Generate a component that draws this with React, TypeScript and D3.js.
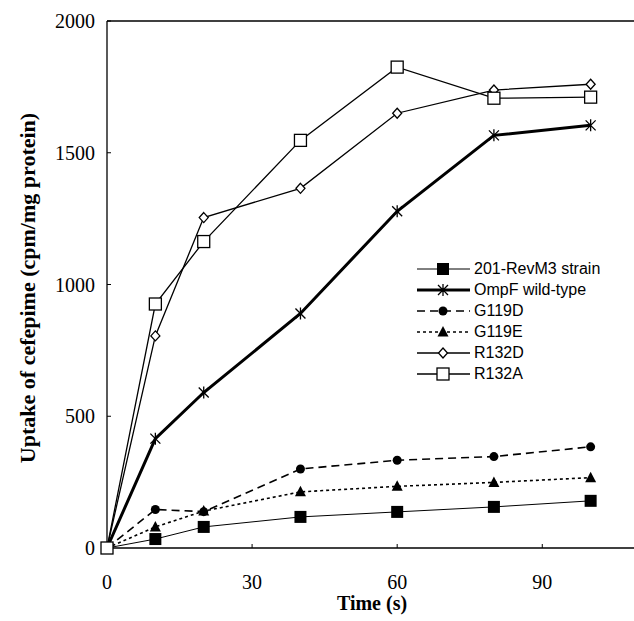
import React, { useEffect, useRef } from 'react';
import * as d3 from 'd3';

// time points (s)
const times = [0, 10, 20, 40, 60, 80, 100];

const revM3 = [0, 34, 80, 118, 137, 156, 179];
const ompF = [0, 415, 590, 890, 1278, 1566, 1604];
const g119d = [0, 146, 138, 300, 333, 347, 384];
const g119e = [0, 80, 140, 213, 234, 249, 267];
const r132d = [0, 805, 1254, 1365, 1650, 1738, 1760];
const r132a = [0, 926, 1163, 1547, 1825, 1707, 1711];

const seriesNames = ['201-RevM3 strain', 'OmpF wild-type', 'G119D', 'G119E', 'R132D', 'R132A'];
const xTicks = [0, 30, 60, 90];
const yTicks = [0, 500, 1000, 1500, 2000];

const W = 634;
const H = 621;

type Style = { width: number; dash: string | null; marker: string };
const styles: Style[] = [
  { width: 1, dash: null, marker: 'fsquare' },
  { width: 3, dash: null, marker: 'star' },
  { width: 1.6, dash: '8,5', marker: 'circle' },
  { width: 1.6, dash: '3,3', marker: 'triangle' },
  { width: 1.3, dash: null, marker: 'diamond' },
  { width: 1.3, dash: null, marker: 'osquare' },
];

function drawMarker(g: any, kind: string, cx: number, cy: number) {
  if (kind === 'fsquare') {
    g.append('rect').attr('x', cx - 6).attr('y', cy - 6).attr('width', 12).attr('height', 12).attr('fill', '#000');
  } else if (kind === 'osquare') {
    g.append('rect').attr('x', cx - 6).attr('y', cy - 6).attr('width', 12).attr('height', 12)
      .attr('fill', '#fff').attr('stroke', '#000').attr('stroke-width', 1.3);
  } else if (kind === 'circle') {
    g.append('circle').attr('cx', cx).attr('cy', cy).attr('r', 4.5).attr('fill', '#000');
  } else if (kind === 'triangle') {
    g.append('path').attr('d', `M${cx},${cy - 6}L${cx + 5.5},${cy + 4.5}L${cx - 5.5},${cy + 4.5}Z`).attr('fill', '#000');
  } else if (kind === 'diamond') {
    g.append('path').attr('d', `M${cx},${cy - 5}L${cx + 4.5},${cy}L${cx},${cy + 5}L${cx - 4.5},${cy}Z`)
      .attr('fill', '#fff').attr('stroke', '#000').attr('stroke-width', 1.3);
  } else if (kind === 'star') {
    g.append('path')
      .attr('d', `M${cx - 5},${cy - 5}L${cx + 5},${cy + 5}M${cx + 5},${cy - 5}L${cx - 5},${cy + 5}M${cx},${cy - 6}L${cx},${cy + 6}`)
      .attr('stroke', '#000').attr('stroke-width', 1.3).attr('fill', 'none');
  }
}

const App = () => {
  const svgRef = useRef<SVGSVGElement | null>(null);

  useEffect(() => {
    const svg = d3.select(svgRef.current);
    svg.selectAll('*').remove();

    const x = d3.scaleLinear().domain([0, 110]).range([107, 639]);
    const y = d3.scaleLinear().domain([0, 2000]).range([548, 21]);

    const allSeries = [revM3, ompF, g119d, g119e, r132d, r132a];

    // frame: left axis, bottom axis, top line
    svg.append('line').attr('x1', x(0)).attr('x2', x(0)).attr('y1', y(2000)).attr('y2', y(0))
      .attr('stroke', '#000').attr('stroke-width', 1.3);
    svg.append('line').attr('x1', x(0)).attr('x2', W).attr('y1', y(0)).attr('y2', y(0))
      .attr('stroke', '#000').attr('stroke-width', 1.5);
    svg.append('line').attr('x1', x(0)).attr('x2', W).attr('y1', y(2000)).attr('y2', y(2000))
      .attr('stroke', '#000').attr('stroke-width', 1.3);

    // ticks
    yTicks.forEach((t) => {
      svg.append('line').attr('x1', x(0)).attr('x2', x(0) + 4).attr('y1', y(t)).attr('y2', y(t))
        .attr('stroke', '#000').attr('stroke-width', 1);
      svg.append('text').attr('x', x(0) - 12).attr('y', y(t) + 7).attr('text-anchor', 'end')
        .attr('font-family', 'Liberation Serif').attr('font-size', 20).text(t);
    });
    xTicks.forEach((t) => {
      svg.append('line').attr('x1', x(t)).attr('x2', x(t)).attr('y1', y(0)).attr('y2', y(0) - 4)
        .attr('stroke', '#000').attr('stroke-width', 1);
      svg.append('text').attr('x', x(t)).attr('y', 589).attr('text-anchor', 'middle')
        .attr('font-family', 'Liberation Serif').attr('font-size', 20).text(t);
    });

    svg.append('text').attr('x', 372).attr('y', 610).attr('text-anchor', 'middle')
      .attr('font-family', 'Liberation Serif').attr('font-weight', 'bold').attr('font-size', 20)
      .text('Time (s)');
    svg.append('text').attr('transform', `translate(35,288) rotate(-90)`)
      .attr('text-anchor', 'middle')
      .attr('font-family', 'Liberation Serif').attr('font-weight', 'bold').attr('font-size', 22)
      .text('Uptake of cefepime (cpm/mg protein)');

    const line = d3.line<number>().x((_, i) => x(times[i])).y((d) => y(d));

    allSeries.forEach((vals, si) => {
      const st = styles[si];
      svg.append('path').attr('d', line(vals)).attr('fill', 'none').attr('stroke', '#000')
        .attr('stroke-width', st.width).attr('stroke-dasharray', st.dash);
    });
    allSeries.forEach((vals, si) => {
      const g = svg.append('g');
      vals.forEach((v, i) => drawMarker(g, styles[si].marker, x(times[i]), y(v)));
    });

    // legend
    const lg = svg.append('g');
    seriesNames.forEach((name, i) => {
      const ly = 269 + i * 21;
      const st = styles[i];
      lg.append('line').attr('x1', 417).attr('x2', 470).attr('y1', ly).attr('y2', ly)
        .attr('stroke', '#000').attr('stroke-width', st.width).attr('stroke-dasharray', st.dash);
      drawMarker(lg, st.marker, 443, ly);
      lg.append('text').attr('x', 474).attr('y', ly + 5).attr('font-family', 'Liberation Sans')
        .attr('font-size', 16).text(name);
    });
  }, []);

  return <svg ref={svgRef} width={W} height={H} style={{ position: 'absolute', left: 0, top: 0, background: '#fff' }} />;
};

export default App;
